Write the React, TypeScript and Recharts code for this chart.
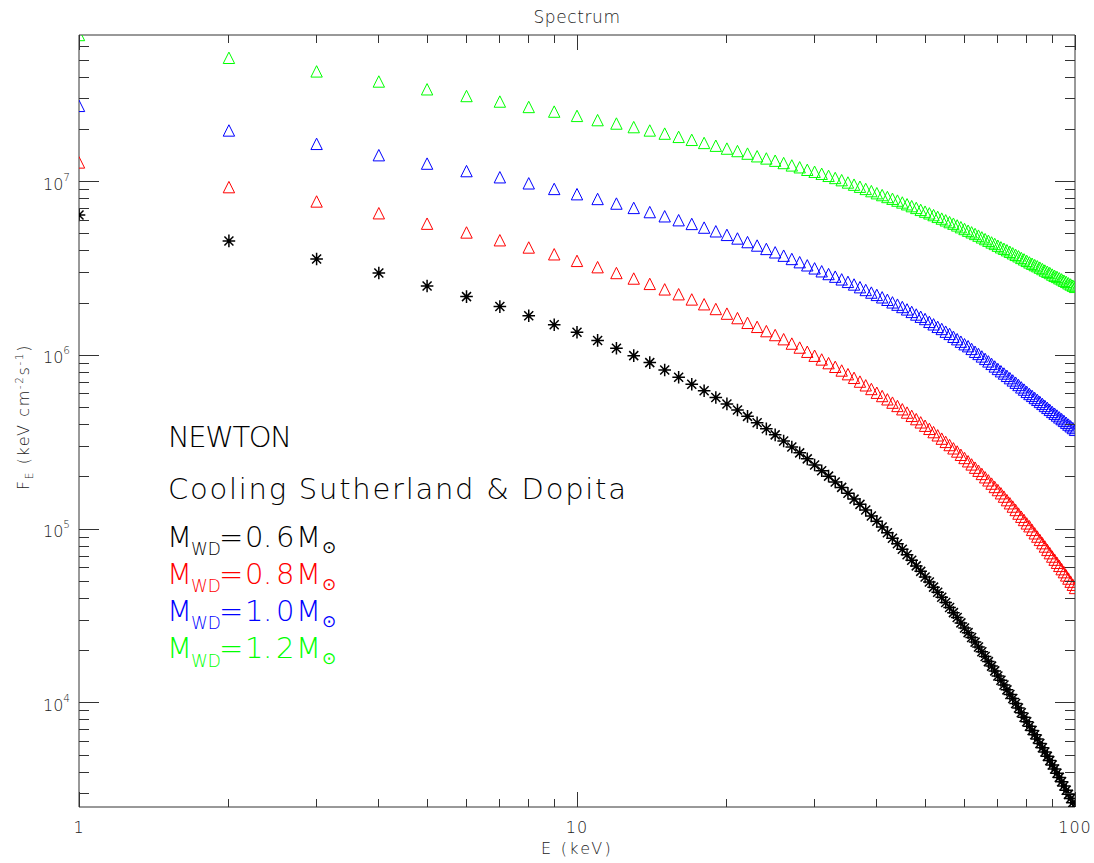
import { ScatterChart, Scatter, XAxis, YAxis } from "recharts";

// photon energy grid, keV
const energy = [
  1, 2, 3, 4, 5, 6, 7, 8, 9, 10, 11, 12, 13, 14, 15, 16, 17, 18, 19, 20,
  21, 22, 23, 24, 25, 26, 27, 28, 29, 30, 31, 32, 33, 34, 35, 36, 37, 38, 39, 40,
  41, 42, 43, 44, 45, 46, 47, 48, 49, 50, 51, 52, 53, 54, 55, 56, 57, 58, 59, 60,
  61, 62, 63, 64, 65, 66, 67, 68, 69, 70, 71, 72, 73, 74, 75, 76, 77, 78, 79, 80,
  81, 82, 83, 84, 85, 86, 87, 88, 89, 90, 91, 92, 93, 94, 95, 96, 97, 98, 99, 100,
];

// F_E (keV cm^-2 s^-1) for each white dwarf mass
const fluxM06 = [
  6.43e6, 4.56e6, 3.59e6, 2.98e6, 2.51e6, 2.18e6, 1.91e6, 1.69e6, 1.5e6, 1.36e6,
  1.22e6, 1.1e6, 9.97e5, 9.09e5, 8.25e5, 7.49e5, 6.83e5, 6.26e5, 5.73e5, 5.26e5,
  4.85e5, 4.46e5, 4.1e5, 3.78e5, 3.49e5, 3.22e5, 2.97e5, 2.75e5, 2.54e5, 2.34e5,
  2.17e5, 2.02e5, 1.87e5, 1.74e5, 1.61e5, 1.49e5, 1.39e5, 1.29e5, 1.19e5, 1.11e5,
  1.03e5, 9.55e4, 8.88e4, 8.25e4, 7.67e4, 7.12e4, 6.62e4, 6.15e4, 5.72e4, 5.31e4,
  4.97e4, 4.64e4, 4.34e4, 4.06e4, 3.79e4, 3.54e4, 3.31e4, 3.1e4, 2.89e4, 2.7e4,
  2.54e4, 2.38e4, 2.24e4, 2.1e4, 1.97e4, 1.85e4, 1.73e4, 1.63e4, 1.53e4, 1.43e4,
  1.35e4, 1.27e4, 1.19e4, 1.12e4, 1.06e4, 9.93e3, 9.35e3, 8.79e3, 8.28e3, 7.79e3,
  7.35e3, 6.95e3, 6.56e3, 6.2e3, 5.85e3, 5.53e3, 5.22e3, 4.93e3, 4.66e3, 4.4e3,
  4.17e3, 3.94e3, 3.73e3, 3.52e3, 3.33e3, 3.15e3, 2.98e3, 2.82e3, 2.67e3, 2.52e3,
];

const fluxM08 = [
  1.29e7, 9.3e6, 7.69e6, 6.58e6, 5.73e6, 5.1e6, 4.6e6, 4.18e6, 3.82e6, 3.5e6,
  3.22e6, 2.98e6, 2.77e6, 2.58e6, 2.4e6, 2.25e6, 2.1e6, 1.97e6, 1.85e6, 1.74e6,
  1.64e6, 1.54e6, 1.46e6, 1.38e6, 1.31e6, 1.24e6, 1.17e6, 1.11e6, 1.05e6, 9.96e5,
  9.48e5, 9.03e5, 8.6e5, 8.19e5, 7.8e5, 7.43e5, 7.07e5, 6.73e5, 6.41e5, 6.1e5,
  5.84e5, 5.59e5, 5.35e5, 5.12e5, 4.9e5, 4.69e5, 4.49e5, 4.3e5, 4.12e5, 3.94e5,
  3.78e5, 3.62e5, 3.47e5, 3.32e5, 3.18e5, 3.05e5, 2.92e5, 2.8e5, 2.68e5, 2.57e5,
  2.46e5, 2.36e5, 2.26e5, 2.17e5, 2.08e5, 1.99e5, 1.91e5, 1.83e5, 1.75e5, 1.68e5,
  1.61e5, 1.54e5, 1.47e5, 1.41e5, 1.35e5, 1.29e5, 1.23e5, 1.18e5, 1.13e5, 1.08e5,
  1.04e5, 9.91e4, 9.47e4, 9.07e4, 8.68e4, 8.31e4, 7.95e4, 7.6e4, 7.28e4, 6.96e4,
  6.68e4, 6.41e4, 6.15e4, 5.89e4, 5.66e4, 5.42e4, 5.2e4, 4.99e4, 4.79e4, 4.59e4,
];

const fluxM10 = [
  2.73e7, 1.97e7, 1.65e7, 1.42e7, 1.27e7, 1.15e7, 1.06e7, 9.78e6, 9.08e6, 8.47e6,
  7.95e6, 7.48e6, 7.06e6, 6.68e6, 6.32e6, 6.0e6, 5.71e6, 5.44e6, 5.18e6, 4.94e6,
  4.71e6, 4.49e6, 4.29e6, 4.1e6, 3.92e6, 3.75e6, 3.59e6, 3.44e6, 3.3e6, 3.17e6,
  3.05e6, 2.94e6, 2.84e6, 2.74e6, 2.65e6, 2.56e6, 2.47e6, 2.38e6, 2.3e6, 2.23e6,
  2.16e6, 2.09e6, 2.02e6, 1.96e6, 1.9e6, 1.84e6, 1.78e6, 1.72e6, 1.67e6, 1.62e6,
  1.56e6, 1.51e6, 1.46e6, 1.42e6, 1.37e6, 1.33e6, 1.28e6, 1.24e6, 1.2e6, 1.16e6,
  1.13e6, 1.09e6, 1.05e6, 1.02e6, 9.87e5, 9.55e5, 9.24e5, 8.94e5, 8.64e5, 8.36e5,
  8.11e5, 7.87e5, 7.63e5, 7.4e5, 7.18e5, 6.97e5, 6.76e5, 6.55e5, 6.36e5, 6.17e5,
  6.0e5, 5.85e5, 5.69e5, 5.55e5, 5.4e5, 5.26e5, 5.12e5, 4.99e5, 4.86e5, 4.73e5,
  4.62e5, 4.51e5, 4.4e5, 4.3e5, 4.2e5, 4.1e5, 4.0e5, 3.91e5, 3.82e5, 3.73e5,
];

const fluxM12 = [
  6.98e7, 5.16e7, 4.31e7, 3.77e7, 3.4e7, 3.11e7, 2.89e7, 2.69e7, 2.53e7, 2.39e7,
  2.26e7, 2.16e7, 2.06e7, 1.97e7, 1.89e7, 1.81e7, 1.74e7, 1.67e7, 1.61e7, 1.55e7,
  1.5e7, 1.45e7, 1.4e7, 1.36e7, 1.32e7, 1.28e7, 1.24e7, 1.21e7, 1.17e7, 1.14e7,
  1.11e7, 1.08e7, 1.05e7, 1.02e7, 9.89e6, 9.61e6, 9.35e6, 9.08e6, 8.82e6, 8.58e6,
  8.37e6, 8.16e6, 7.97e6, 7.78e6, 7.59e6, 7.41e6, 7.23e6, 7.06e6, 6.88e6, 6.72e6,
  6.57e6, 6.42e6, 6.27e6, 6.13e6, 5.99e6, 5.85e6, 5.73e6, 5.6e6, 5.47e6, 5.34e6,
  5.22e6, 5.11e6, 5.0e6, 4.89e6, 4.78e6, 4.67e6, 4.57e6, 4.47e6, 4.38e6, 4.28e6,
  4.19e6, 4.11e6, 4.03e6, 3.95e6, 3.87e6, 3.79e6, 3.72e6, 3.64e6, 3.57e6, 3.5e6,
  3.43e6, 3.37e6, 3.31e6, 3.26e6, 3.2e6, 3.14e6, 3.08e6, 3.03e6, 2.98e6, 2.92e6,
  2.87e6, 2.83e6, 2.78e6, 2.74e6, 2.69e6, 2.65e6, 2.6e6, 2.56e6, 2.52e6, 2.48e6,
];

const massLabels = ["0.6", "0.8", "1.0", "1.2"];
const massColors = ["#000000", "#ff0000", "#0000ff", "#00ff00"];

const xTicks = [1, 2, 3, 4, 5, 6, 7, 8, 9, 10, 20, 30, 40, 50, 60, 70, 80, 90, 100];
const xMajor = [1, 10, 100];
const yTicks = [
  3e3, 4e3, 5e3, 6e3, 7e3, 8e3, 9e3,
  1e4, 2e4, 3e4, 4e4, 5e4, 6e4, 7e4, 8e4, 9e4,
  1e5, 2e5, 3e5, 4e5, 5e5, 6e5, 7e5, 8e5, 9e5,
  1e6, 2e6, 3e6, 4e6, 5e6, 6e6, 7e6, 8e6, 9e6,
  1e7, 2e7, 3e7, 4e7, 5e7, 6e7,
];
const yMajor = [1e4, 1e5, 1e6, 1e7];
const yRange = [2.52e3, 6.98e7];

const W = 1094;
const H = 863;
// axis bands: bottom 30, top 15, left 30, right 15 -> plot box 79..1075 x 35..807
const M = { top: 20, right: 4, bottom: 26, left: 49 };
const AXIS = "#333";
const INK = "#222";
const FONT = "'DejaVu Sans', 'Liberation Sans', sans-serif";
const XTICK_MAJOR = 15.4;
const YTICK_MAJOR = 20;

const toPoints = (flux: number[]) => energy.map((e, i) => ({ e, f: flux[i] }));

function Triangle(props: any) {
  const { cx, cy, color } = props;
  if (cx == null || cy == null) return null;
  const r = 5.7;
  return (
    <path
      d={`M${cx - r},${cy + r}L${cx},${cy - r}L${cx + r},${cy + r}Z`}
      fill="none"
      stroke={color}
      strokeWidth={1}
    />
  );
}

function Asterisk(props: any) {
  const { cx, cy } = props;
  if (cx == null || cy == null) return null;
  const r = 6.3;
  const d = 4.5;
  return (
    <path
      d={`M${cx - r},${cy}H${cx + r}M${cx},${cy - r}V${cy + r}M${cx - d},${cy - d}L${cx + d},${cy + d}M${cx - d},${cy + d}L${cx + d},${cy - d}`}
      stroke="#000"
      strokeWidth={1.5}
      fill="none"
    />
  );
}

function BottomTick({ x, y, payload }: any) {
  const major = xMajor.includes(payload.value);
  return (
    <g>
      <line x1={x} y1={y} x2={x} y2={y - (major ? XTICK_MAJOR : XTICK_MAJOR / 2)} stroke={AXIS} shapeRendering="crispEdges" />
      {major && (
        <text x={x} y={y + 26} textAnchor="middle" fontSize={16} letterSpacing={1} fontFamily={FONT} fontWeight={200} fill={INK}>
          {payload.value}
        </text>
      )}
    </g>
  );
}

function TopTick({ x, y, payload }: any) {
  const major = xMajor.includes(payload.value);
  return (
    <line x1={x} y1={y} x2={x} y2={y + (major ? XTICK_MAJOR : XTICK_MAJOR / 2)} stroke={AXIS} shapeRendering="crispEdges" />
  );
}

function LeftTick({ x, y, payload }: any) {
  const major = yMajor.includes(payload.value);
  return (
    <g>
      <line x1={x} y1={y} x2={x + (major ? YTICK_MAJOR : YTICK_MAJOR / 2)} y2={y} stroke={AXIS} shapeRendering="crispEdges" />
      {major && (
        <text x={x - 9} y={y + 8} textAnchor="end" fontSize={16} fontFamily={FONT} fontWeight={200} fill={INK}>
          10
          <tspan fontSize={10.5} dy={-9}>
            {Math.round(Math.log10(payload.value))}
          </tspan>
        </text>
      )}
    </g>
  );
}

function RightTick({ x, y, payload }: any) {
  const major = yMajor.includes(payload.value);
  return (
    <line x1={x} y1={y} x2={x - (major ? YTICK_MAJOR : YTICK_MAJOR / 2)} y2={y} stroke={AXIS} shapeRendering="crispEdges" />
  );
}

function MassLine({ label, color, baseline }: { label: string; color: string; baseline: number }) {
  const [a, b] = label.split(".");
  return (
    <text y={baseline} fontSize={29} fontFamily={FONT} fontWeight={200} fill={color}>
      <tspan x={167}>M</tspan>
      <tspan x={191} dy={8.3} fontSize={17}>WD</tspan>
      <tspan x={219} dy={-8.3}>=</tspan>
      <tspan x={245}>{a}</tspan>
      <tspan x={263}>.</tspan>
      <tspan x={276}>{b}</tspan>
      <tspan x={296}>M</tspan>
      <tspan x={322} dy={6} fontSize={17}>⊙</tspan>
    </text>
  );
}

export default function App() {
  const series = [fluxM06, fluxM08, fluxM10, fluxM12];
  return (
    <div style={{ position: "absolute", left: 0, top: 0, width: W, height: H, background: "#fff" }}>
      <ScatterChart width={W} height={H} margin={M}>
        <XAxis
          xAxisId="b"
          dataKey="e"
          type="number"
          scale="log"
          domain={[1, 100]}
          allowDataOverflow
          ticks={xTicks}
          interval={0}
          height={30}
          tickSize={0}
          tickMargin={0}
          tickLine={false}
          axisLine={{ stroke: AXIS }}
          tick={<BottomTick />}
        />
        <XAxis
          xAxisId="t"
          orientation="top"
          dataKey="e"
          type="number"
          scale="log"
          domain={[1, 100]}
          allowDataOverflow
          ticks={xTicks}
          interval={0}
          height={15}
          tickSize={0}
          tickMargin={0}
          tickLine={false}
          axisLine={{ stroke: AXIS }}
          tick={<TopTick />}
        />
        <YAxis
          yAxisId="l"
          dataKey="f"
          type="number"
          scale="log"
          domain={yRange}
          allowDataOverflow
          ticks={yTicks}
          interval={0}
          width={30}
          tickSize={0}
          tickMargin={0}
          tickLine={false}
          axisLine={{ stroke: AXIS }}
          tick={<LeftTick />}
        />
        <YAxis
          yAxisId="r"
          orientation="right"
          dataKey="f"
          type="number"
          scale="log"
          domain={yRange}
          allowDataOverflow
          ticks={yTicks}
          interval={0}
          width={15}
          tickSize={0}
          tickMargin={0}
          tickLine={false}
          axisLine={{ stroke: AXIS }}
          tick={<RightTick />}
        />
        {series.map((flux, i) => (
          <Scatter
            key={massLabels[i]}
            xAxisId="b"
            yAxisId="l"
            data={toPoints(flux)}
            isAnimationActive={false}
            shape={i === 0 ? <Asterisk /> : <Triangle color={massColors[i]} />}
          />
        ))}
      </ScatterChart>
      <svg
        width={W}
        height={H}
        style={{ position: "absolute", left: 0, top: 0, pointerEvents: "none" }}
        fontFamily={FONT}
        fontWeight={200}
      >
        <text x={577} y={23} textAnchor="middle" fontSize={17} letterSpacing={0.6} fill={INK}>
          Spectrum
        </text>
        <text x={577} y={854} textAnchor="middle" fontSize={16} letterSpacing={2.3} fill={INK}>
          E (keV)
        </text>
        <text
          transform="translate(29,417) rotate(-90)"
          textAnchor="middle"
          fontSize={16}
          letterSpacing={1.6}
          fill={INK}
        >
          F<tspan fontSize={10.5} dy={4}>E</tspan>
          <tspan dy={-4}> (keV cm</tspan>
          <tspan fontSize={10.5} dy={-6}>-2</tspan>
          <tspan dy={6}>s</tspan>
          <tspan fontSize={10.5} dy={-6}>-1</tspan>
          <tspan dy={6}>)</tspan>
        </text>
        <text x={168} y={446.7} fontSize={29} fill="#000" textLength={124} lengthAdjust="spacing">
          NEWTON
        </text>
        <text x={168} y={499} fontSize={29} fill="#000" textLength={458} lengthAdjust="spacing">
          Cooling Sutherland &amp; Dopita
        </text>
        {massLabels.map((m, i) => (
          <MassLine key={m} label={m} color={massColors[i]} baseline={546.7 + i * 37.2} />
        ))}
      </svg>
    </div>
  );
}
